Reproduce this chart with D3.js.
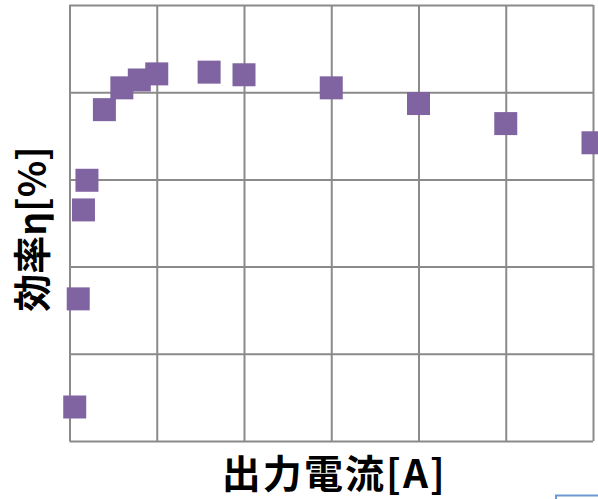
<!DOCTYPE html>
<html>
<head>
<meta charset="utf-8">
<script src="https://cdn.jsdelivr.net/npm/d3@7"></script>
<style>
  html, body { margin: 0; padding: 0; background: #fff; }
  svg { display: block; }
</style>
</head>
<body>
<svg id="chart" width="598" height="499"></svg>
<script>
// Output current [A] and efficiency [%] measurements
const current = [0.03, 0.05, 0.08, 0.10, 0.20, 0.30, 0.40, 0.50, 0.80, 1.00, 1.50, 2.00, 2.50, 3.00];
const efficiency = [53.9, 66.3, 76.5, 79.9, 88.0, 90.5, 91.4, 92.1, 92.3, 92.0, 90.5, 88.7, 86.4, 84.2];

// Grid positions (no tick labels are shown)
const xTicks = [0, 0.5, 1.0, 1.5, 2.0, 2.5, 3.0];
const yTicks = [50, 60, 70, 80, 90, 100];

const xTitle = "出力電流[A]";
const yTitle = "効率η[%]";

const svg = d3.select("#chart");
const plotLeft = 69.5, plotRight = 593, plotTop = 5, plotBottom = 441;

const x = d3.scaleLinear().domain([0, 3]).range([plotLeft, plotRight]);
const y = d3.scaleLinear().domain([50, 100]).range([plotBottom, plotTop]);

const gridColor = "#8a8a8a";

// vertical gridlines
svg.append("g")
  .attr("transform", `translate(0,${plotBottom})`)
  .call(d3.axisBottom(x).tickValues(xTicks).tickSize(-(plotBottom - plotTop)).tickFormat(""))
  .call(g => g.select(".domain").remove())
  .call(g => g.selectAll("line").attr("stroke", gridColor).attr("stroke-width", 2));

// horizontal gridlines
svg.append("g")
  .attr("transform", `translate(${plotLeft},0)`)
  .call(d3.axisLeft(y).tickValues(yTicks).tickSize(-(plotRight - plotLeft)).tickFormat(""))
  .call(g => g.select(".domain").remove())
  .call(g => g.selectAll("line").attr("stroke", gridColor).attr("stroke-width", 2));

// square markers
const size = 23;
svg.append("g")
  .selectAll("rect")
  .data(current.map((c, i) => ({ c, e: efficiency[i] })))
  .join("rect")
  .attr("x", d => x(d.c) - size / 2)
  .attr("y", d => y(d.e) - size / 2)
  .attr("width", size)
  .attr("height", size)
  .attr("fill", "#8064a2");

// axis titles
const font = "'Noto Sans CJK JP', 'Noto Sans CJK SC', sans-serif";
svg.append("text")
  .attr("x", (plotLeft + plotRight) / 2 + 2)
  .attr("y", 488)
  .attr("text-anchor", "middle")
  .attr("font-family", font)
  .attr("font-weight", "bold")
  .attr("font-size", 39)
  .attr("textLength", 223)
  .attr("lengthAdjust", "spacing")
  .attr("fill", "#000")
  .text(xTitle);

svg.append("text")
  .attr("transform", "translate(46,229) rotate(-90)")
  .attr("text-anchor", "middle")
  .attr("font-family", font)
  .attr("font-weight", "bold")
  .attr("font-size", 38)
  .attr("fill", "#000")
  .text(yTitle);

// selection frame edge in the lower right corner
svg.append("path")
  .attr("d", "M556,500 V495.5 H600")
  .attr("fill", "none")
  .attr("stroke", "#6a98d4")
  .attr("stroke-width", 2);
</script>
</body>
</html>
